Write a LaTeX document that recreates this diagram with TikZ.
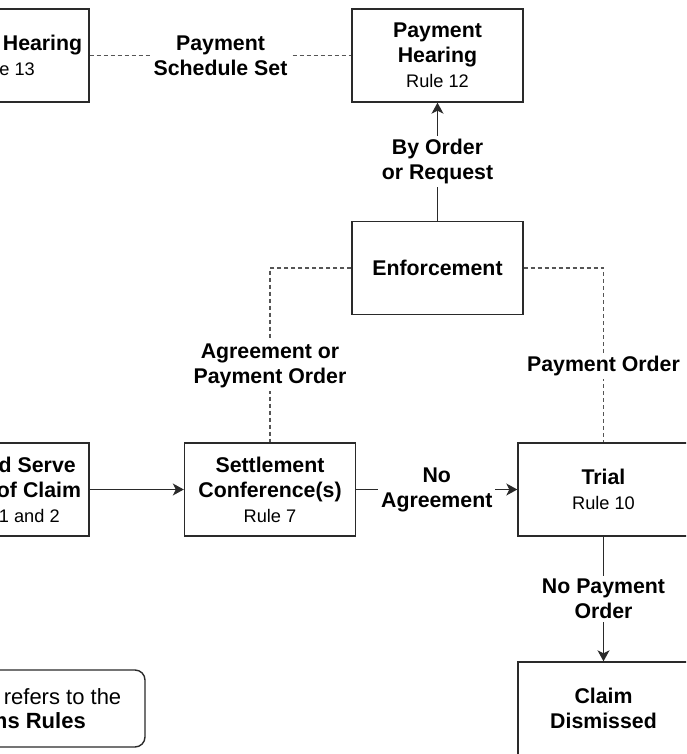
\documentclass[tikz,border=0pt]{standalone}
\usepackage{fontspec}
\setmainfont{Liberation Sans}
\usepackage{tikz}
\usetikzlibrary{arrows.meta,positioning}
\definecolor{boxgray}{HTML}{2A2A2A}
\definecolor{linkgray}{HTML}{555555}
\newcommand{\rulenote}[1]{{\fontsize{18.2}{25}\selectfont\mdseries #1}}

\begin{document}
\begin{tikzpicture}[x=1pt,y=-1pt,
    stagebox/.style={draw=boxgray, line width=1.4pt, fill=white, minimum width=171pt,
        minimum height=93pt, inner sep=0pt, align=center,
        font=\fontsize{21.3}{25}\selectfont\bfseries},
    legendbox/.style={draw=boxgray, line width=1.4pt, rounded corners=10pt, minimum width=321.4pt,
        minimum height=77pt, inner sep=0pt, align=center,
        font=\fontsize{22}{24}\selectfont},
    flowlabel/.style={fill=white, inner sep=3pt, align=center,
        font=\fontsize{21.3}{25}\selectfont\bfseries},
    flow/.style={draw=boxgray, line width=1.2pt, -{Stealth[length=11pt,width=12pt,inset=3pt]}},
    link/.style={draw=linkgray, line width=1.1pt, dash pattern=on 4pt off 3pt},
]
    \useasboundingbox (0,0) rectangle (686,754);
    \clip (0,0) rectangle (686,754);

    % stages
    \node[stagebox] (default) at (3.5,55.5) {Default Hearing\\\rulenote{Rule 13}};
    \node[stagebox] (payhear) at (437.5,55.5) {Payment\\Hearing\\\rulenote{Rule 12}};
    \node[stagebox] (enforce) at (437.5,268) {Enforcement};
    \node[stagebox] (fileserve) at (3.5,489.5) {File and Serve\\Notice of Claim\\\rulenote{Rules 1 and 2}};
    \node[stagebox] (settle) at (270,489.5) {Settlement\\Conference(s)\\\rulenote{Rule 7}};
    \node[stagebox] (trial) at (603.5,489.5) {Trial\\\rulenote{Rule 10}};
    \node[stagebox] (dismissed) at (603.5,708.5) {Claim\\Dismissed};
    \node[legendbox] (legend) at (-15.7,708.5) {Each rule listed refers to the\\\textbf{Small Claims Rules}};

    % dashed links
    \draw[link] (default) -- node[flowlabel] {Payment\\Schedule Set} (payhear);
    \draw[link] (enforce.west) -| node[flowlabel, pos=0.78] {Agreement or\\Payment Order} (settle.north);
    \draw[link] (enforce.east) -| node[flowlabel, pos=0.78] {Payment Order} (trial.north);

    % arrows
    \draw[flow] (enforce) -- node[flowlabel] {By Order\\or Request} (payhear);
    \draw[flow] (fileserve) -- (settle);
    \draw[flow] (settle) -- node[flowlabel] {No\\Agreement} (trial);
    \draw[flow] (trial) -- node[flowlabel] {No Payment\\Order} (dismissed);
\end{tikzpicture}
\end{document}
